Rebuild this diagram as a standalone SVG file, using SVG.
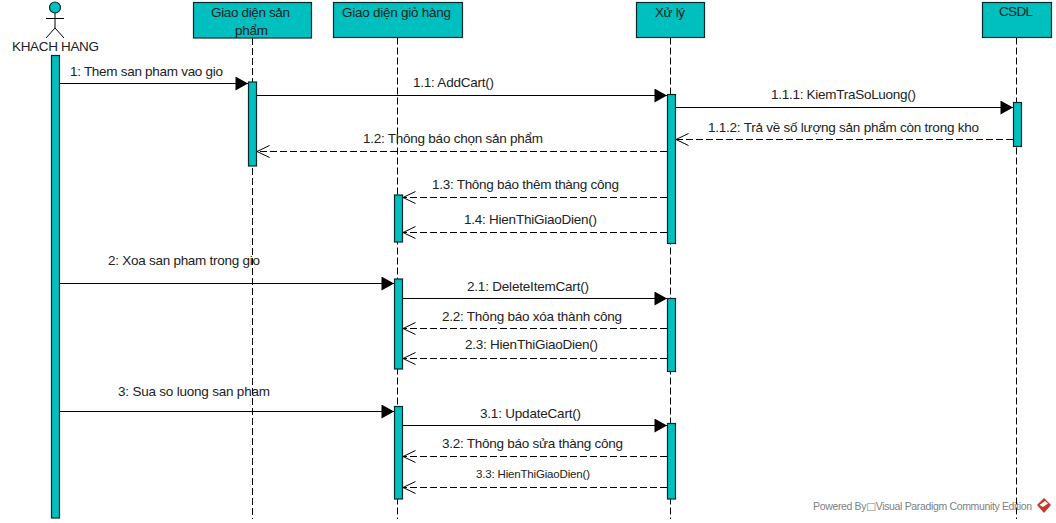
<svg xmlns="http://www.w3.org/2000/svg" width="1056" height="523" viewBox="0 0 1056 523">
<style>
text{font-family:"Liberation Sans",Arial,sans-serif;font-size:13.500px;fill:#222}
.box,.act{fill:#00bfbf;stroke:#062a2a;stroke-width:1.2}
.life{stroke:#000;stroke-width:1;stroke-dasharray:7 3;fill:none}
.msg{stroke:#000;stroke-width:1.1;fill:none;marker-end:url(#solid)}
.ret{stroke:#000;stroke-width:1;stroke-dasharray:7 3;fill:none;marker-end:url(#open)}
</style>
<defs>
<marker id="solid" markerUnits="userSpaceOnUse" markerWidth="14" markerHeight="15" refX="13" refY="7" orient="auto"><path d="M0.500,0L13,7L0.500,14Z" fill="#000"/></marker>
<marker id="open" markerUnits="userSpaceOnUse" markerWidth="15" markerHeight="14" refX="13.500" refY="7" orient="auto"><path d="M1,1L13.500,7L1,13" fill="none" stroke="#000" stroke-width="1"/></marker>
</defs>
<rect width="1056" height="523" fill="#fff"/>
<g id="actor-khach-hang">
<circle class="box" cx="55" cy="7.500" r="5.500"/>
<path d="M55,13V28M46,18.500H64M46,38L55,28L64,38" fill="none" stroke="#000" stroke-width="1"/>
<text x="12" y="51" textLength="87">KHACH HANG</text>
<rect class="act" x="51.500" y="55.500" width="8" height="462.500"/>
</g>
<g id="node-giao-dien-san-pham">
<path class="life" d="M252.500,38V519"/>
<rect class="box" x="193.500" y="2.500" width="118" height="35.500"/>
<text x="211" y="17" textLength="79">Giao diện sản</text>
<text x="235" y="35" textLength="33">phẩm</text>
<rect class="act" x="248.500" y="82" width="8" height="84"/>
</g>
<g id="node-giao-dien-gio-hang">
<path class="life" d="M397.500,37.500V519"/>
<rect class="box" x="333.500" y="2.500" width="129" height="35"/>
<text x="342" y="17" textLength="109">Giao diện giỏ hàng</text>
<rect class="act" x="394.500" y="195" width="8" height="47"/>
<rect class="act" x="394.500" y="279" width="8" height="90"/>
<rect class="act" x="394.500" y="406.500" width="8" height="92.500"/>
</g>
<g id="node-xu-ly">
<path class="life" d="M670.500,37.500V519"/>
<rect class="box" x="636.500" y="2.500" width="68" height="35"/>
<text x="655" y="17" textLength="30">Xử lý</text>
<rect class="act" x="667.500" y="94.500" width="8" height="149"/>
<rect class="act" x="667.500" y="298.500" width="8" height="73"/>
<rect class="act" x="667.500" y="423.500" width="8" height="75.500"/>
</g>
<g id="node-csdl">
<path class="life" d="M1016.500,37.500V519"/>
<rect class="box" x="982.500" y="2.500" width="69" height="35"/>
<text x="999" y="16" textLength="34">CSDL</text>
<rect class="act" x="1013.500" y="102.500" width="8" height="44"/>
</g>
<g id="connectors">
<path class="msg" d="M60,83.500H248"/>
<path class="msg" d="M257,95.500H667"/>
<path class="msg" d="M676,107.500H1013"/>
<path class="ret" d="M1013,139.500H676"/>
<path class="ret" d="M667,151.500H257"/>
<path class="ret" d="M667,197.500H403"/>
<path class="ret" d="M667,232.500H403"/>
<path class="msg" d="M60,283.500H394"/>
<path class="msg" d="M403,298.500H667"/>
<path class="ret" d="M667,328.500H403"/>
<path class="ret" d="M667,358.500H403"/>
<path class="msg" d="M60,411.500H394"/>
<path class="msg" d="M403,425.500H667"/>
<path class="ret" d="M667,456.500H403"/>
<path class="ret" d="M667,487.500H403"/>
<text x="70" y="76" textLength="153">1: Them san pham vao gio</text>
<text x="413" y="87" textLength="81">1.1: AddCart()</text>
<text x="771" y="99" textLength="145">1.1.1: KiemTraSoLuong()</text>
<text x="708" y="132" textLength="271">1.1.2: Trả về số lượng sản phẩm còn trong kho</text>
<text x="363" y="143" textLength="180">1.2: Thông báo chọn sản phẩm</text>
<text x="432" y="189" textLength="187">1.3: Thông báo thêm thàng công</text>
<text x="464" y="224" textLength="133">1.4: HienThiGiaoDien()</text>
<text x="108" y="265" textLength="152">2: Xoa san pham trong gio</text>
<text x="467" y="291" textLength="122">2.1: DeleteItemCart()</text>
<text x="442" y="321" textLength="180">2.2: Thông báo xóa thành công</text>
<text x="465" y="349" textLength="133">2.3: HienThiGiaoDien()</text>
<text x="118" y="396" textLength="152">3: Sua so luong san pham</text>
<text x="480" y="418" textLength="101">3.1: UpdateCart()</text>
<text x="442" y="448" textLength="181">3.2: Thông báo sửa thàng công</text>
<text x="476" y="478" textLength="114" style="font-size:11.500px">3.3: HienThiGiaoDien()</text>
</g>
<g id="footer">
<text x="813" y="510" textLength="219" style="font-size:10.500px;fill:#808080">Powered By<tspan style="font-family:'DejaVu Sans',sans-serif">□</tspan>Visual Paradigm Community Edition</text>
<path d="M1044,498L1051,505L1044,513L1037,505Z" fill="#c0392b"/>
<path d="M1039.500,505L1045,501L1048,503.500L1043,507Z" fill="#fff"/>
</g>
</svg>
